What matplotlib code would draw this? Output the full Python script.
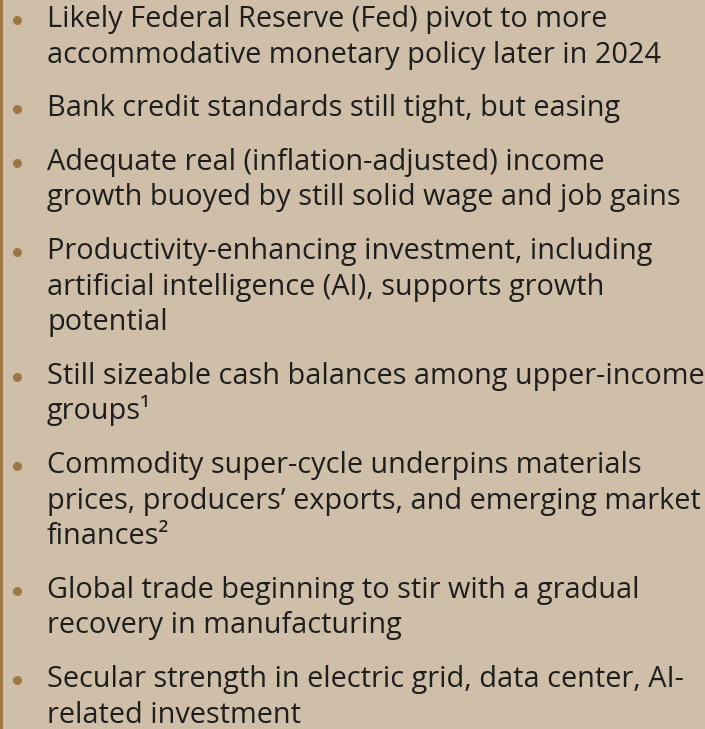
import matplotlib.pyplot as plt
from matplotlib.patches import Rectangle

# bullet items, lines already broken as in the reference
items = [
    ["Likely Federal Reserve (Fed) pivot to more",
     "accommodative monetary policy later in 2024"],
    ["Bank credit standards still tight, but easing"],
    ["Adequate real (inflation-adjusted) income",
     "growth buoyed by still solid wage and job gains"],
    ["Productivity-enhancing investment, including",
     "artificial intelligence (AI), supports growth",
     "potential"],
    ["Still sizeable cash balances among upper-income",
     "groups\u00b9"],
    ["Commodity super-cycle underpins materials",
     "prices, producers\u2019 exports, and emerging market",
     "finances\u00b2"],
    ["Global trade beginning to stir with a gradual",
     "recovery in manufacturing"],
    ["Secular strength in electric grid, data center, AI-",
     "related investment"],
]

bg = "#cfbfa8"
accent = "#9e7844"
W, H = 705, 729

fig = plt.figure(figsize=(W / 100, H / 100), dpi=100, facecolor=bg)
ax = fig.add_axes([0, 0, 1, 1])
ax.set_xlim(0, W)
ax.set_ylim(H, 0)
ax.axis("off")
ax.set_facecolor(bg)

ax.add_patch(Rectangle((0, 0), 3, H, color=accent, lw=0))

line_h = 35.6
gap = 18
y = 27  # baseline of first line
for lines in items:
    ax.plot(16.5, y - 7, "o", color=accent, ms=6.5, mec="none")
    for ln in lines:
        ax.text(47, y, ln, fontsize=20.8, family="Open Sans", color="#1e1e1e",
                va="baseline", ha="left")
        y += line_h
    y += gap

fig.savefig("out.png", dpi=100, facecolor=bg)
